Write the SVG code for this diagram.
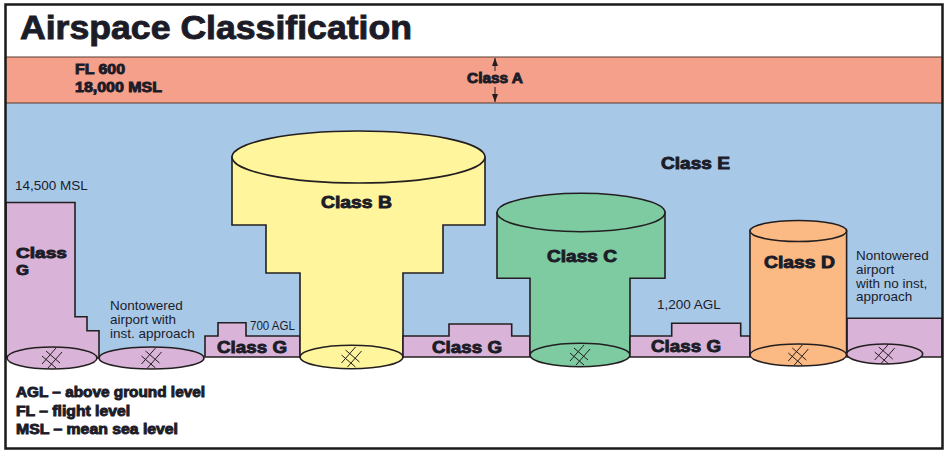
<svg xmlns="http://www.w3.org/2000/svg" width="946" height="453" viewBox="0 0 946 453">
<style>
.ol{stroke:#231f20;stroke-width:1.6;stroke-linejoin:miter}
.g{fill:#d9b4d8}
.bl{font-family:"Liberation Sans",Arial,sans-serif;font-weight:bold;fill:#1c1c28;stroke:#1c1c28;stroke-width:0.9}
.rg{font-family:"Liberation Sans",Arial,sans-serif;font-size:13.5px;fill:#1c1c28}
.rw{stroke:#231f20;stroke-width:1;fill:none}
</style>
<defs>
<g id="rwy">
<path class="rw" d="M-10,6 L4,-10 M-4,10 L10,-6 M-6,-7 L8,5 M-10,-2 L4,10"/>
</g>
<marker id="ah" viewBox="0 0 8 6" refX="8" refY="3" markerWidth="8" markerHeight="6" orient="auto" markerUnits="userSpaceOnUse">
<path d="M0,0 L8,3 L0,6 Z" fill="#231f20"/>
</marker>
</defs>
<rect x="0" y="0" width="946" height="453" fill="#ffffff"/>
<g id="title">
<text x="20" y="39" class="bl" font-size="33" stroke-width="1.6" textLength="392" lengthAdjust="spacingAndGlyphs">Airspace Classification</text>
</g>
<g id="classE">
<rect x="5" y="103" width="937" height="254" fill="#a8c8e8"/>
<text x="661" y="169" class="bl" font-size="17" textLength="69" lengthAdjust="spacingAndGlyphs">Class E</text>
<text x="15" y="190" class="rg">14,500 MSL</text>
</g>
<g id="classA">
<rect x="5" y="57" width="937" height="46" fill="#f5a08b"/>
<line x1="5" y1="57" x2="942" y2="57" stroke="#5a3a30" stroke-width="1.2"/>
<line x1="5" y1="103" x2="942" y2="103" stroke="#5a3a30" stroke-width="1.2"/>
<text x="75" y="74" class="bl" font-size="14" textLength="50" lengthAdjust="spacingAndGlyphs">FL 600</text>
<text x="75" y="92" class="bl" font-size="14" textLength="87" lengthAdjust="spacingAndGlyphs">18,000 MSL</text>
<text x="467" y="83" class="bl" font-size="14" textLength="56" lengthAdjust="spacingAndGlyphs">Class A</text>
</g>
<g id="connectors">
<line x1="495" y1="71" x2="495" y2="58" stroke="#231f20" stroke-width="1" marker-end="url(#ah)"/>
<line x1="495" y1="87" x2="495" y2="102" stroke="#231f20" stroke-width="1" marker-end="url(#ah)"/>
</g>
<g id="classG-left">
<polygon class="g ol" points="6,202.5 75,202.5 75,316.7 87,316.7 87,330.7 99,330.7 99,358 6,358"/>
<text x="16" y="258" class="bl" font-size="15" stroke-width="1.1" textLength="51" lengthAdjust="spacingAndGlyphs">Class</text>
<text x="16" y="275" class="bl" font-size="15" stroke-width="1.1" textLength="13" lengthAdjust="spacingAndGlyphs">G</text>
</g>
<g id="airport-1">
<ellipse class="g ol" cx="52" cy="358" rx="45" ry="11"/>
<use href="#rwy" x="52" y="358"/>
</g>
<g id="airport-2">
<ellipse class="g ol" cx="151.5" cy="358" rx="52.5" ry="11"/>
<use href="#rwy" x="151.5" y="358"/>
<text class="rg" x="110" y="310">Nontowered</text>
<text class="rg" x="110" y="324">airport with</text>
<text class="rg" x="110" y="338">inst. approach</text>
</g>
<g id="classG-1">
<polygon class="g ol" points="205,357 205,336 218,336 218,322.7 246,322.7 246,336 300,336 300,357"/>
<text x="217" y="353" class="bl" font-size="17" textLength="70" lengthAdjust="spacingAndGlyphs">Class G</text>
<text class="rg" x="250" y="330" font-size="11.5" textLength="45" lengthAdjust="spacingAndGlyphs">700 AGL</text>
</g>
<g id="classB">
<path class="ol" fill="#fff59d" d="M232,157 L232,225 L266,225 L266,273 L300,273 L300,357 L403,357 L403,273 L443,273 L443,225 L485,225 L485,157 Z"/>
<ellipse class="ol" fill="#fff59d" cx="358.5" cy="157" rx="126.5" ry="26"/>
<ellipse class="ol" fill="#fff59d" cx="351.5" cy="357" rx="51.5" ry="11.7"/>
<use href="#rwy" x="351.5" y="357"/>
<text x="321" y="208" class="bl" font-size="17" textLength="71" lengthAdjust="spacingAndGlyphs">Class B</text>
</g>
<g id="classG-2">
<polygon class="g ol" points="403,357 403,336 449,336 449,324 511.7,324 511.7,336 530,336 530,357"/>
<text x="432" y="353" class="bl" font-size="17" textLength="70" lengthAdjust="spacingAndGlyphs">Class G</text>
</g>
<g id="classC">
<path class="ol" fill="#7ecba2" d="M497,212.5 L497,278.3 L530,278.3 L530,355 L630,355 L630,278.3 L665,278.3 L665,212.5 Z"/>
<ellipse class="ol" fill="#7ecba2" cx="581" cy="212.5" rx="84" ry="19.2"/>
<ellipse class="ol" fill="#7ecba2" cx="580" cy="355" rx="50" ry="11.7"/>
<use href="#rwy" x="580" y="355"/>
<text x="547" y="262" class="bl" font-size="17" textLength="70" lengthAdjust="spacingAndGlyphs">Class C</text>
</g>
<g id="classG-3">
<polygon class="g ol" points="630,357 630,336 671.7,336 671.7,323.3 740.7,323.3 740.7,336 750,336 750,357"/>
<text x="651" y="352" class="bl" font-size="17" textLength="70" lengthAdjust="spacingAndGlyphs">Class G</text>
<text class="rg" x="657" y="309">1,200 AGL</text>
</g>
<g id="classG-right">
<polygon class="g ol" points="847,357 847,318.3 942,318.3 942,357"/>
<text class="rg" x="856" y="260">Nontowered</text>
<text class="rg" x="856" y="274">airport</text>
<text class="rg" x="856" y="287.5">with no inst,</text>
<text class="rg" x="856" y="301">approach</text>
</g>
<g id="classD">
<path class="ol" fill="#fbb983" d="M750,231 L750,355 L846.6,355 L846.6,231 Z"/>
<ellipse class="ol" fill="#fbb983" cx="798.3" cy="231" rx="48.3" ry="10.5"/>
<ellipse class="ol" fill="#fbb983" cx="798.3" cy="355" rx="48.3" ry="11"/>
<use href="#rwy" x="798.3" y="355"/>
<text x="764" y="268" class="bl" font-size="17" textLength="71" lengthAdjust="spacingAndGlyphs">Class D</text>
</g>
<g id="airport-3">
<ellipse class="g ol" cx="884.7" cy="354" rx="38" ry="10"/>
<use href="#rwy" x="884.7" y="354"/>
</g>
<g id="legend">
<text x="16" y="397" class="bl" font-size="14" textLength="189" lengthAdjust="spacingAndGlyphs">AGL – above ground level</text>
<text x="16" y="416" class="bl" font-size="14" textLength="114" lengthAdjust="spacingAndGlyphs">FL – flight level</text>
<text x="16" y="434" class="bl" font-size="14" textLength="162" lengthAdjust="spacingAndGlyphs">MSL – mean sea level</text>
</g>
<rect id="frame" x="5.5" y="4.5" width="937" height="444" fill="none" stroke="#1a1a1a" stroke-width="2.5"/>
</svg>
